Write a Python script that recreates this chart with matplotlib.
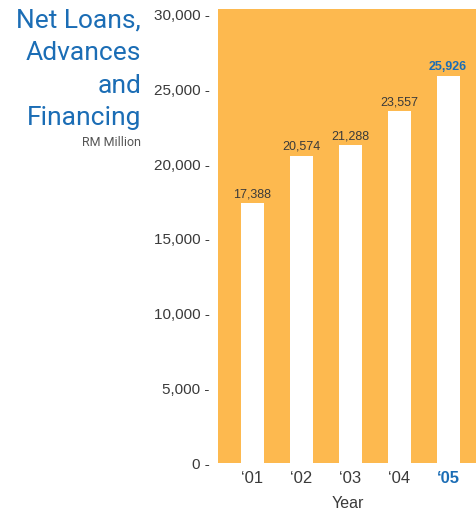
"""
Net Loans, Advances and Financing - bar chart
"""
import matplotlib
matplotlib.use('Agg')
import matplotlib.pyplot as plt

# Données
years = ["\u201801", "\u201802", "\u201803", "\u201804", "\u201805"]
values = [17388, 20574, 21288, 23557, 25926]
value_labels = ["17,388", "20,574", "21,288", "23,557", "25,926"]
yticks = [0, 5000, 10000, 15000, 20000, 25000, 30000]
ytick_labels = ["0 -", "5,000 -", "10,000 -", "15,000 -", "20,000 -", "25,000 -", "30,000 -"]
title_lines = ["Net Loans,", "Advances", "and", "Financing"]

ORANGE = '#fdb94f'
BLUE = '#1b6db5'
GREY = '#3a3a3a'
NARROW = ['Liberation Sans Narrow', 'Liberation Sans', 'DejaVu Sans']
TITLE_FONT = ['Roboto', 'Liberation Sans', 'DejaVu Sans']

fig = plt.figure(figsize=(4.77, 5.18), dpi=100)
ax = fig.add_axes([0.457, 0.106, 0.543, 0.877])
ax.set_facecolor(ORANGE)

x = list(range(len(years)))
ax.bar(x, values, width=0.47, color='white', zorder=2)

for i, (v, lab) in enumerate(zip(values, value_labels)):
    last = i == len(values) - 1
    ax.annotate(lab, (i, v), xytext=(0, 2), textcoords='offset points',
                ha='center', va='bottom', fontsize=9, family=NARROW,
                color=BLUE if last else GREY,
                fontweight='bold' if last else 'normal')

ax.set_xlim(-0.70, 4.59)
ax.set_ylim(0, 30400)

ax.set_yticks(yticks)
ax.set_yticklabels(ytick_labels, fontsize=11, family=NARROW, color=GREY)
ax.set_xticks(x)
ax.set_xticklabels(years, fontsize=12, family=NARROW, color=GREY)
xt = ax.get_xticklabels()
xt[-1].set_color(BLUE)
xt[-1].set_fontweight('bold')
ax.tick_params(axis='x', length=0, pad=6)
ax.tick_params(axis='y', length=0, pad=6)
ax.set_xlabel('Year', fontsize=11.5, family=NARROW, color=GREY, labelpad=7)

for s in ax.spines.values():
    s.set_visible(False)

# Titre à gauche
ys = [0.983, 0.921, 0.858, 0.796]
for line, y in zip(title_lines, ys):
    fig.text(0.296, y, line, ha='right', va='top', fontsize=19,
             family=TITLE_FONT, color=BLUE)
fig.text(0.296, 0.737, 'RM Million', ha='right', va='top', fontsize=9,
         family=TITLE_FONT, color='#555555')

fig.savefig('out.png', dpi=100)
